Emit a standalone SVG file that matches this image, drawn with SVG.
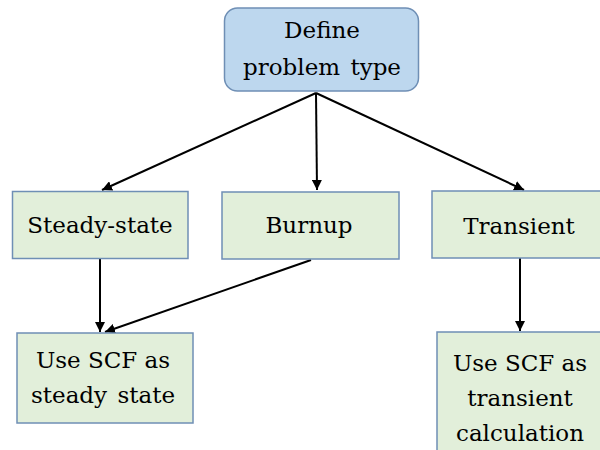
<svg xmlns="http://www.w3.org/2000/svg" width="600" height="450" viewBox="0 0 600 450">
<defs>
<marker id="ah" viewBox="0 0 10 10" refX="10" refY="5" markerWidth="5" markerHeight="5" orient="auto" markerUnits="strokeWidth">
<path d="M0,0 L10,5 L0,10 z" fill="#000"/>
</marker>
<style>
.g{fill:#E2EFDA;stroke:#6F8FB5;stroke-width:1.5}
.b{fill:#BDD7EE;stroke:#6F8FB5;stroke-width:1.5}
.t{font-family:'DejaVu Serif',serif;font-size:23px;fill:#000;text-anchor:middle}
.c{stroke:#000;stroke-width:2;fill:none;marker-end:url(#ah)}
</style>
</defs>
<rect width="600" height="450" fill="#fff"/>
<g id="connectors">
<line class="c" x1="316" y1="93" x2="102" y2="190"/>
<line class="c" x1="316" y1="93" x2="317" y2="190"/>
<line class="c" x1="316" y1="93" x2="524" y2="190"/>
<line class="c" x1="100" y1="259" x2="100" y2="332"/>
<line class="c" x1="311" y1="260" x2="105" y2="332"/>
<line class="c" x1="520" y1="258" x2="520" y2="331"/>
</g>
<g id="define">
<rect class="b" x="224.5" y="8" width="194" height="83" rx="13"/>
<text class="t" x="322" y="38">Define</text>
<text class="t" x="322" y="75" word-spacing="3">problem type</text>
</g>
<g id="steady">
<rect class="g" x="12.5" y="191.5" width="175.5" height="67"/>
<text class="t" x="100" y="233">Steady-state</text>
</g>
<g id="burnup">
<rect class="g" x="222" y="192" width="177" height="67"/>
<text class="t" x="309" y="233">Burnup</text>
</g>
<g id="transient">
<rect class="g" x="432" y="191" width="175" height="67"/>
<text class="t" x="519" y="234">Transient</text>
</g>
<g id="scf-steady">
<rect class="g" x="17" y="333" width="176" height="90"/>
<text class="t" x="103" y="368">Use SCF as</text>
<text class="t" x="103" y="403" word-spacing="3">steady state</text>
</g>
<g id="scf-transient">
<rect class="g" x="437" y="332" width="170" height="125"/>
<text class="t" x="520" y="371">Use SCF as</text>
<text class="t" x="520" y="406">transient</text>
<text class="t" x="520" y="441">calculation</text>
</g>
</svg>
